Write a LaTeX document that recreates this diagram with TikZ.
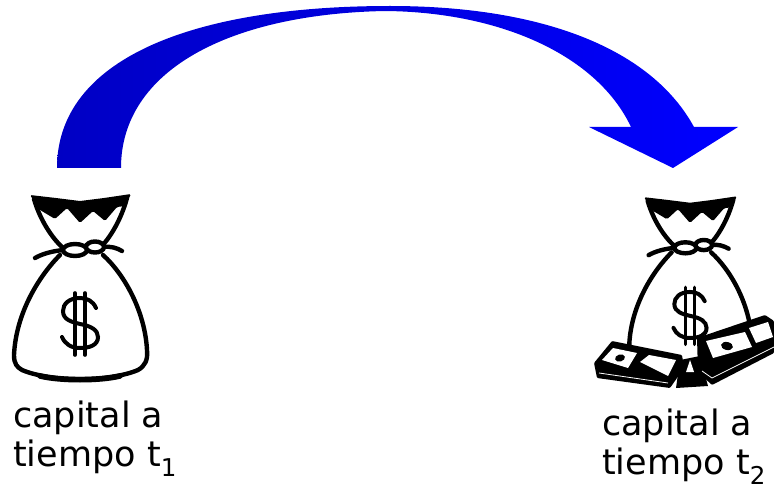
\documentclass[tikz,border=0pt]{standalone}
\usepackage{fontspec}
\setmainfont{DejaVu Sans}
\begin{document}
\begin{tikzpicture}[x=1pt,y=-1pt,
  ink/.style={draw=black,line width=4.4pt,line join=round,line cap=round},
  label/.style={inner sep=0pt,align=left,anchor=north west,
    font=\fontsize{35}{39}\selectfont},
  bag/.pic={
    % body of the sack
    \path[ink,fill=white] (60,255) .. controls (40,275) and (16,312) .. (14,355)
      .. controls (14,364) and (17,367) .. (22,370)
      .. controls (50,382) and (110,382) .. (138,370)
      .. controls (145,366) and (148,360) .. (147,350)
      .. controls (145,312) and (125,275) .. (103,255);
    \draw[line width=5.5pt,line cap=round] (40,376) .. controls (60,381) and (100,381) .. (120,376);
    % neck
    \path[ink,fill=white] (34,199) .. controls (40,220) and (52,238) .. (63,248)
      -- (100,248) .. controls (110,238) and (121,220) .. (127,198);
    % frilled top
    \fill[black,rounded corners=1.5pt] (30,195) -- (56,198) -- (80,201) -- (104,198) -- (131,194)
      -- (125,206) -- (117,207)
      -- (105,221) -- (93,211) -- (80,223) -- (67,208) -- (55,219) -- (40,210) -- cycle;
    % tie and knot
    \draw[ink] (64,250) .. controls (52,251) and (42,254) .. (35,258);
    \draw[ink] (103,247) .. controls (111,246) and (117,248) .. (122,251);
    \draw[ink,fill=white] (75,250) ellipse[x radius=12,y radius=6];
    \draw[ink,fill=white] (95,247) ellipse[x radius=9,y radius=5.5];
    % dollar sign
    \draw[line width=4pt,line cap=round] (96,308) .. controls (93,301) and (87,298) .. (80,298)
      .. controls (69,298) and (63,304) .. (63,311)
      .. controls (63,320) and (72,322) .. (80,324)
      .. controls (91,326) and (98,330) .. (98,337)
      .. controls (98,345) and (90,348) .. (80,348)
      .. controls (71,348) and (65,344) .. (62,337);
    \draw[line width=3.6pt,line cap=round] (75,293) -- (75,355) (85,293) -- (85,355);
  }]
\useasboundingbox (0,0) rectangle (774,492);

% curved transfer arrow
\shade[left color={rgb,255:red,0;green,0;blue,196},right color={rgb,255:red,0;green,0;blue,255}]
  (57,168) .. controls (57,60) and (190,6) .. (390,6)
  .. controls (545,6) and (652,50) .. (694,127)
  -- (738,127) -- (673,168) -- (589,127) -- (631,127)
  .. controls (597,55) and (500,12) .. (385,11)
  .. controls (230,14) and (121,70) .. (121,168) -- cycle;

% money bags
\pic (bagone) at (0,0) {bag};
\pic[scale=0.92] (bagtwo) at (616.4,17.8) {bag};

% bank-note stacks beside the second bag
\fill[black] (680,360) -- (700,356) -- (708,386) -- (676,388) -- cycle;
\fill[white] (686,372) -- (690,360) -- (694,372) -- cycle;
\fill[black,rounded corners=1pt] (594,363) -- (612,341) -- (682,355) -- (684,368) -- (670,388) -- (597,378) -- cycle;
\fill[white] (602,360) -- (613,348) -- (637,353) -- (628,368) -- cycle;
\fill[black,rotate around={15:(620,358)}] (620,358) ellipse[x radius=5,y radius=3.5];
\fill[white] (640,362) -- (649,355) -- (676,360) -- (668,376) -- cycle;
\draw[white,line width=0.8pt] (599,373) -- (668,383);
\fill[black,rounded corners=1pt] (697,338) -- (765,315) -- (774,321) -- (774,353) -- (712,385) -- (698,372) -- cycle;
\fill[white] (706,341) -- (745,332) -- (752,347) -- (713,358) -- cycle;
\fill[black,rotate around={-12:(727,346)}] (727,346) ellipse[x radius=6,y radius=4];
\fill[white] (749,328) -- (768,322) -- (773,337) -- (756,343) -- cycle;
\draw[white,line width=0.8pt] (702,371) -- (712,378) -- (774,347);

% labels
\node[label] (lblone) at (13,401) {capital a\\tiempo t\textsubscript{1}};
\node[label] (lbltwo) at (602,409) {capital a\\tiempo t\textsubscript{2}};
\end{tikzpicture}
\end{document}
